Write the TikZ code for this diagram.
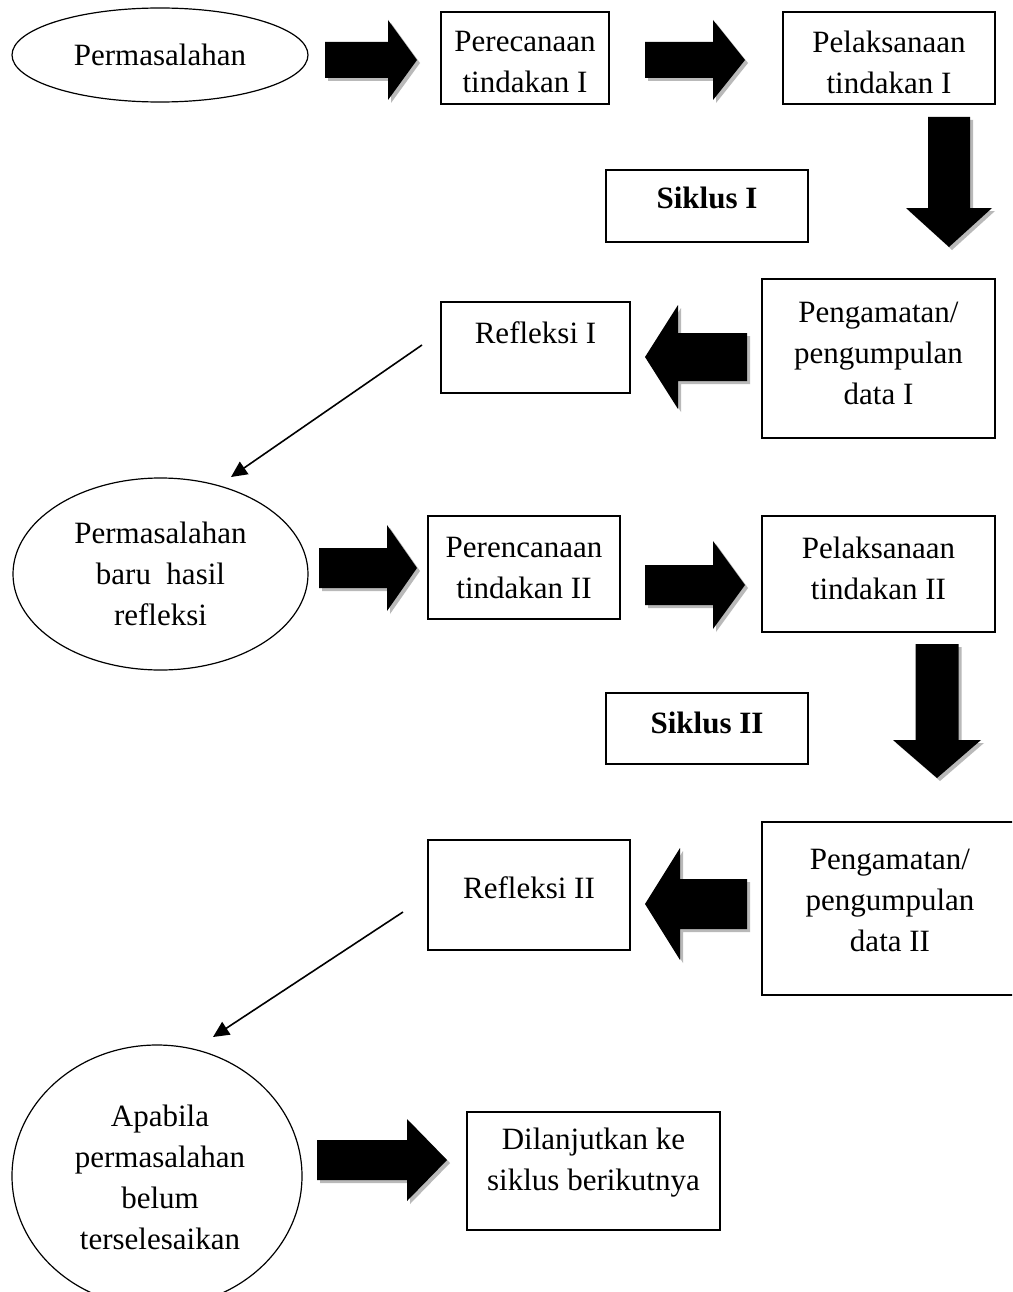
\documentclass[tikz,border=0pt]{standalone}
\usepackage{fontspec}
\setmainfont{Liberation Serif}
\usetikzlibrary{shapes.geometric,arrows.meta}
\definecolor{shadowc}{RGB}{185,185,185}
\newcommand\blockH[6]{% x shaft start, x head base, x tip, y centre, shaft half, head half
  \fill[shadowc,shift={(3,3)}] (#1,#4-#5) -- (#2,#4-#5) -- (#2,#4-#6) -- (#3,#4) -- (#2,#4+#6) -- (#2,#4+#5) -- (#1,#4+#5) -- cycle;
  \fill[black] (#1,#4-#5) -- (#2,#4-#5) -- (#2,#4-#6) -- (#3,#4) -- (#2,#4+#6) -- (#2,#4+#5) -- (#1,#4+#5) -- cycle;}
\newcommand\blockV[6]{% y shaft start, y head base, y tip, x centre, shaft half, head half
  \fill[shadowc,shift={(3,3)}] (#4-#5,#1) -- (#4-#5,#2) -- (#4-#6,#2) -- (#4,#3) -- (#4+#6,#2) -- (#4+#5,#2) -- (#4+#5,#1) -- cycle;
  \fill[black] (#4-#5,#1) -- (#4-#5,#2) -- (#4-#6,#2) -- (#4,#3) -- (#4+#6,#2) -- (#4+#5,#2) -- (#4+#5,#1) -- cycle;}
\begin{document}
\begin{tikzpicture}[x=1pt,y=-1pt,
  box/.style={draw,line width=1.3pt,rectangle,inner sep=0pt},
  ell/.style={draw,line width=1.2pt,ellipse,inner sep=0pt,align=center,font=\fontsize{31}{41}\selectfont},
  txt/.style={align=center,inner sep=0pt,font=\fontsize{31}{41}\selectfont},
  btxt/.style={align=center,inner sep=0pt,font=\fontsize{31}{41}\selectfont\bfseries},
  thin/.style={line width=1.6pt,-{Triangle[length=16pt,width=15pt]}}]
\useasboundingbox (0,0) rectangle (1012,1292);
\clip (0,0) rectangle (1012,1292);
\fill[white] (0,0) rectangle (1012,1292);

% row 1
\node[ell,minimum width=296pt,minimum height=94pt] (e1) at (160,55) {Permasalahan};
\blockH{325}{388}{417}{60}{18}{40}
\node[box,minimum width=168pt,minimum height=92pt] (b1) at (525,58) {};
\node[txt] (t1) at (525,62) {Perecanaan\\tindakan I};
\blockH{645}{713}{745}{60}{18}{40}
\node[box,minimum width=212pt,minimum height=92pt] (b2) at (889,58) {};
\node[txt] (t2) at (889,62) {Pelaksanaan\\tindakan I};
\blockV{117}{208}{247}{949}{21}{43}

\node[box,minimum width=202pt,minimum height=72pt] (s1) at (707,206) {};
\node[btxt] (ts1) at (707,198) {Siklus I};

% row 2
\node[box,minimum width=233pt,minimum height=159pt] (b3) at (878.5,358.5) {};
\node[txt] (t3) at (878.5,353) {Pengamatan/\\pengumpulan\\data I};
\blockH{747}{678}{645}{357}{24}{52}
\node[box,minimum width=189pt,minimum height=91pt] (r1) at (535.5,347.5) {};
\node[txt] (tr1) at (535.5,333) {Refleksi I};
\coordinate (l1s) at (422,345);
\coordinate (l1e) at (231,477);
\draw[thin] (l1s) -- (l1e);

% row 3
\node[ell,minimum width=295pt,minimum height=192pt] (e2) at (160.5,574) {Permasalahan\\baru\ \ hasil\\refleksi};
\blockH{319}{387}{417}{568}{20}{43}
\node[box,minimum width=192pt,minimum height=103pt] (b4) at (524,567.5) {};
\node[txt] (t4) at (524,568) {Perencanaan\\tindakan II};
\blockH{645}{713}{745}{585}{20}{44}
\node[box,minimum width=233pt,minimum height=116pt] (b5) at (878.5,574) {};
\node[txt] (t5) at (878.5,568) {Pelaksanaan\\tindakan II};
\blockV{644}{740}{778}{937}{21.5}{44}

\node[box,minimum width=202pt,minimum height=71pt] (s2) at (707,728.5) {};
\node[btxt] (ts2) at (707,723) {Siklus II};

% row 4
\node[box,minimum width=258pt,minimum height=173pt] (b6) at (891,908.5) {};
\node[txt] (t6) at (890,900) {Pengamatan/\\pengumpulan\\data II};
\blockH{747}{680}{645}{904}{25}{56}
\node[box,minimum width=202pt,minimum height=110pt] (r2) at (529,895) {};
\node[txt] (tr2) at (529,888) {Refleksi II};
\coordinate (l2s) at (403,912);
\coordinate (l2e) at (213,1037);
\draw[thin] (l2s) -- (l2e);

% row 5
\node[ell,minimum width=290pt,minimum height=262pt] (e3) at (157,1176) {};
\node[txt] (t7) at (160,1177) {Apabila\\permasalahan\\belum\\terselesaikan};
\blockH{317}{407}{447}{1160}{20}{41}
\node[box,minimum width=253pt,minimum height=118pt] (b7) at (593.5,1171) {};
\node[txt] (t8) at (593.5,1163) {Dilanjutkan ke\\siklus berikutnya};
\end{tikzpicture}
\end{document}
